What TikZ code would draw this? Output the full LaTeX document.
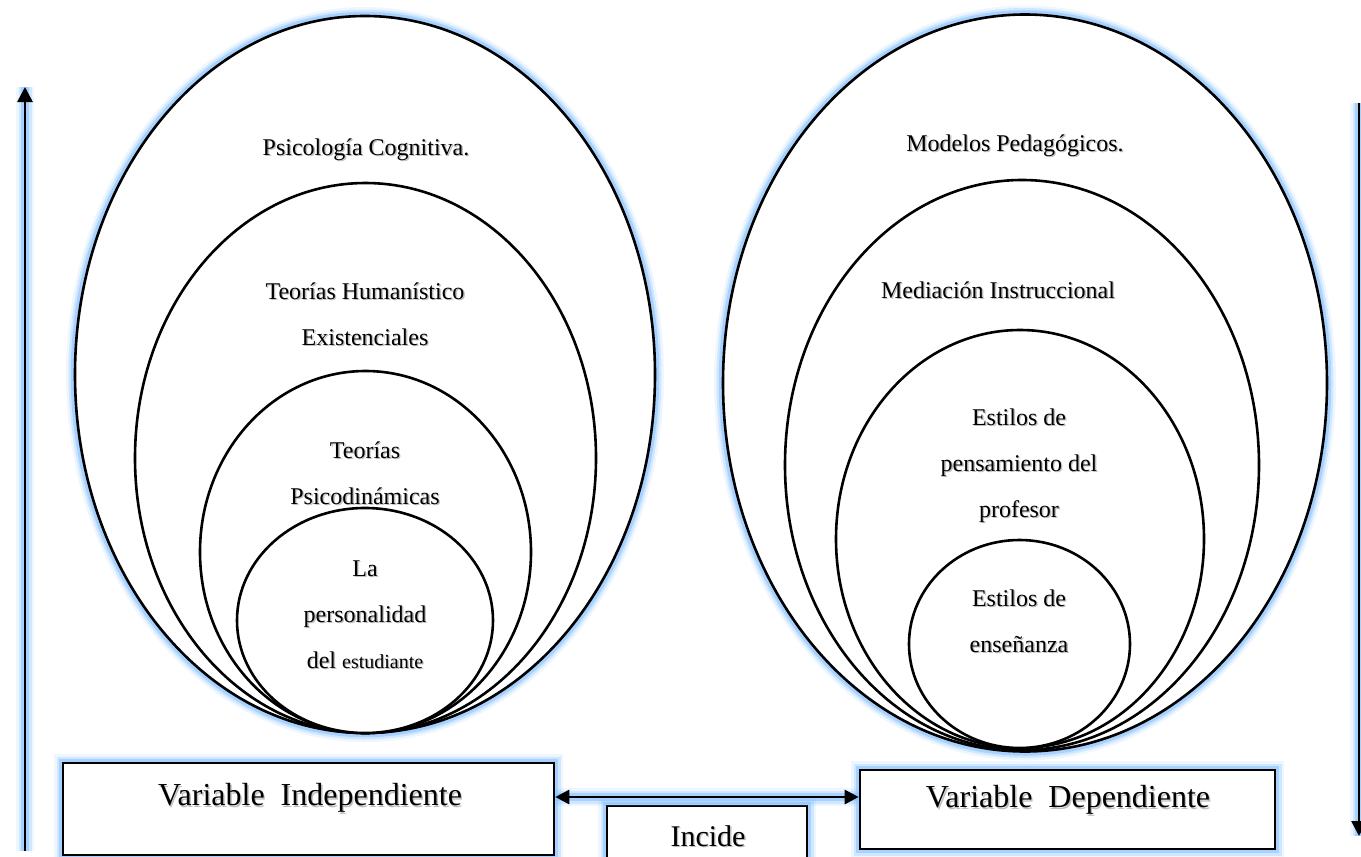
\documentclass[tikz,border=0pt]{standalone}
\usepackage{fontspec}
\setmainfont{Liberation Serif}
\usetikzlibrary{shapes.geometric,arrows.meta,calc}
\definecolor{glowc}{RGB}{140,195,255}
\newcommand{\sh}[1]{\leavevmode\rlap{\kern1.4pt\raisebox{-1.4pt}{\textcolor{black!25}{#1}}}#1}
\tikzset{
  glow/.style={
    preaction={draw=glowc,line width=18pt,opacity=.15,-},
    preaction={draw=glowc,line width=13pt,opacity=.3,-},
    preaction={draw=glowc,line width=8.5pt,opacity=.6,-}},
  ell/.style={ellipse,draw=black,line width=2.6pt,fill=white,inner sep=0pt},
  boxn/.style={rectangle,draw=black,line width=2.6pt,fill=white,inner sep=0pt},
  etext/.style={align=center,inner sep=0pt,font=\fontsize{24}{46}\selectfont},
  btext/.style={inner sep=0pt,font=\fontsize{32}{38}\selectfont},
  itext/.style={inner sep=0pt,font=\fontsize{30}{36}\selectfont},
  arr/.style={line width=2.7pt,-{Triangle[length=15pt,width=15pt]}},
  darr/.style={line width=2.7pt,{Triangle[length=14pt,width=14pt]}-{Triangle[length=14pt,width=14pt]}}
}
\begin{document}
\begin{tikzpicture}[x=1pt,y=-1pt]
\useasboundingbox (0,0) rectangle (1361,857);
\clip (0,0) rectangle (1361,857);

% left ellipses
\node[ell,glow,minimum width=580pt,minimum height=717pt] (L1) at (365,374.5) {};
\node[ell,minimum width=461pt,minimum height=550pt] (L2) at (365.5,458) {};
\node[ell,minimum width=331pt,minimum height=362pt] (L3) at (365.5,552) {};
\node[ell,minimum width=256pt,minimum height=225pt] (L4) at (365,620.5) {};

% right ellipses
\node[ell,glow,minimum width=604pt,minimum height=737pt] (R1) at (1025,383) {};
\node[ell,minimum width=474pt,minimum height=570pt] (R2) at (1022,465) {};
\node[ell,minimum width=368pt,minimum height=418pt] (R3) at (1020,539) {};
\node[ell,minimum width=221pt,minimum height=208pt] (R4) at (1019.5,644) {};

% left texts
\node[etext] (tl1) at (366,150) {\sh{Psicología Cognitiva.}};
\node[etext] (tl2) at (365,315) {\sh{Teorías Humanístico}\\\sh{Existenciales}};
\node[etext] (tl3) at (365,474) {\sh{Teorías}\\\sh{Psicodinámicas}};
\node[etext] (tl4) at (365,615) {\sh{La}\\\sh{personalidad}\\\sh{del {\fontsize{20}{46}\selectfont estudiante}}};

% right texts
\node[etext] (tr1) at (1015,146) {\sh{Modelos Pedagógicos.}};
\node[etext] (tr2) at (998,291) {\sh{Mediación Instruccional}};
\node[etext] (tr3) at (1019,466) {\sh{Estilos de}\\\sh{pensamiento del}\\\sh{profesor}};
\node[etext] (tr4) at (1019,622) {\sh{Estilos de}\\\sh{enseñanza}};

% boxes
\node[boxn,glow,minimum width=491pt,minimum height=92pt] (VI) at (308.5,809) {};
\node[boxn,glow,minimum width=415pt,minimum height=79pt] (VD) at (1067.5,809.5) {};
\node[boxn,glow,minimum width=200pt,minimum height=69pt] (IN) at (707,840.5) {};
\node[btext] (tvi) at ($(VI.north)+(1.5,37)$) {\sh{Variable\ \ Independiente}};
\node[btext] (tvd) at ($(VD.north)+(0.5,32)$) {\sh{Variable\ \ Dependiente}};
\node[itext] (tin) at ($(IN.north)+(1,32)$) {\sh{Incide}};

% arrows
\coordinate (la0) at (25,851);
\coordinate (la1) at (25,87);
\draw[arr,glow] (la0) -- (la1);
\coordinate (ra0) at (1359,103);
\coordinate (ra1) at (1359,836);
\draw[arr,glow] (ra0) -- (ra1);
\coordinate (midy) at (0,797);
\draw[darr,glow] (VI.east |- midy) -- (VD.west |- midy);
\end{tikzpicture}
\end{document}
